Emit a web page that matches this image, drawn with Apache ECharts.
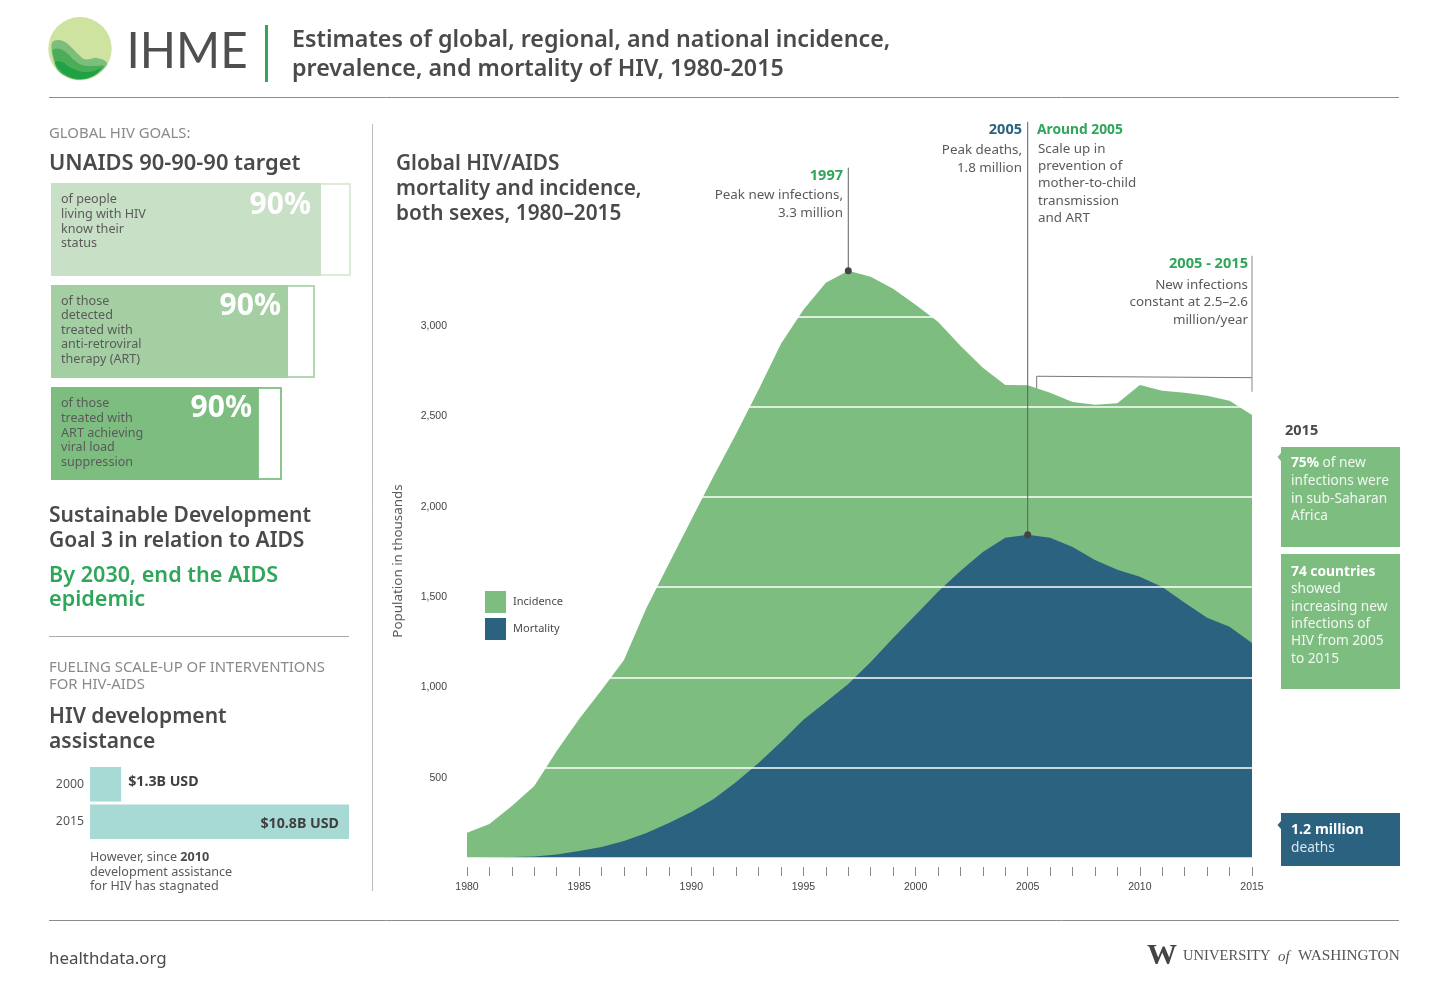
<!DOCTYPE html>
<html><head><meta charset="utf-8">
<style>html,body{margin:0;padding:0;background:#fff;overflow:hidden}#c{width:1440px;height:989px}</style>
<script src="https://cdn.jsdelivr.net/npm/echarts@6/dist/echarts.min.js"></script>
</head><body><div id="c"></div>
<script>
const years = [1980,1981,1982,1983,1984,1985,1986,1987,1988,1989,1990,1991,1992,1993,1994,1995,1996,1997,1998,1999,2000,2001,2002,2003,2004,2005,2006,2007,2008,2009,2010,2011,2012,2013,2014,2015];
const incidence = [140,188,288,399,593,770,931,1097,1385,1629,1873,2116,2349,2593,2848,3036,3186,3252,3219,3152,3064,2970,2837,2715,2620,2618,2576,2526,2510,2518,2620,2587,2576,2560,2532,2454];
const mortality = [0,2,6,8,19,39,61,94,139,194,255,327,421,526,643,765,864,964,1086,1219,1346,1474,1590,1695,1773,1790,1773,1723,1651,1596,1557,1501,1413,1330,1280,1191];
const yTickLabels = [500,1000,1500,2000,2500,3000];
const peakInfectionLeader = [[1997,3252],[1997,3823]];
const peakDeathLeader = [[2005,1790],[2005,4077]];
const rangeBracket = [[2005.4,2600],[2005.4,2668],[2015,2660]];
const rangeLeader = [[2015,3335],[2015,2582]];
const targetCats = ['know','treated','suppressed'];
const targetOuter = [100,88,77];
const targetFilled = [90,79,69.3];
const targetColors = ['#c8e0c6','#a4cfa3','#7dbd80'];
const targetBorders = ['#dcecd9','#b2d8b0','#8cc48e'];
const assistYears = ['2000','2015'];
const assistValues = [1.3,10.8];
const assistLabels = ['$1.3B USD','$10.8B USD'];

const F = '"Noto Sans"';
const GREEN='#7dbd80', BLUE='#2b6280', DARK='#4a4a4a', GREY='#8a8a8a', TXT='#5a5a5a', BRIGHT='#2fa65a';
const els = [];
function T(x,y,text,size,color,weight,align,extra,elExtra){
  els.push(Object.assign({type:'text',x:x,y:y+(size>=18?2:1),style:Object.assign({text:text,fill:color||TXT,font:(weight||400)+' '+size+'px '+F,textAlign:align||'left',textVerticalAlign:'middle'},extra||{})},elExtra||{}));
}
function L(x1,y1,x2,y2,color,w){els.push({type:'line',shape:{x1,y1,x2,y2},style:{stroke:color,lineWidth:w||1}});}
function R(x,y,w,h,color){els.push({type:'rect',shape:{x,y,width:w,height:h},style:{fill:color}});}
function P(pts,color,smooth){els.push({type:'polygon',shape:{points:pts,smooth:smooth||0},style:{fill:color}});}
function lines(x,ys,arr,size,color,weight,align){arr.forEach((s,i)=>T(x,ys[i],s,size,color,weight,align));}

// logo
els.push({type:'circle',shape:{cx:80,cy:48.7,r:31.7},style:{fill:'#cfe3a0'}});
P([[52,43],[58,40],[65,42],[72,48],[78,54],[84,59],[90,59],[97,58],[107,63],[101,71],[92,77],[80,79.5],[68,77],[58,70],[53,58]],'#7cbf7a',0.4);
P([[53,50],[60,49],[68,54],[74,60],[82,65],[94,66],[104,66],[98,73],[90,77],[80,79.5],[68,77],[58,70],[54.5,60]],'#4bad58',0.4);
P([[55,62],[62,62],[68,66],[76,70],[84,72],[94,71],[101,68],[96,74],[88,78],[80,79],[70,77],[61,71]],'#1fa245',0.4);
T(126.5,50,'IHME',50,'#4f4f4f',400,'left',{font:'400 50px Lato'},{scaleX:0.95});
R(265,25,3,57,BRIGHT);
L(49,97.5,1399,97.5,'#8c8c8c',1);
L(49,920.5,1399,920.5,'#8c8c8c',1);
L(372.5,124,372.5,891,'#bbbbbb',1);
L(49,636.5,349,636.5,'#aaaaaa',1);

// header
T(292,38,'Estimates of global, regional, and national incidence,',23.25,DARK,600);
T(292,67,'prevalence, and mortality of HIV, 1980-2015',23.25,DARK,600);

// left column
T(49,133,'GLOBAL HIV GOALS:',14.9,GREY);
T(49,162,'UNAIDS 90-90-90 target',21.9,DARK,600);
lines(61,[198,213,228,242],['of people','living with HIV','know their','status'],12.6,TXT);
lines(61,[300,314,329,343,358],['of those','detected','treated with','anti-retroviral','therapy (ART)'],12.6,TXT);
lines(61,[402,417,432,446,461],['of those','treated with','ART achieving','viral load','suppression'],12.6,TXT);
T(311,203,'90%',30,'#fff',700,'right');
T(281,304,'90%',30,'#fff',700,'right');
T(252,406,'90%',30,'#fff',700,'right');
lines(49,[514,539],['Sustainable Development','Goal 3 in relation to AIDS'],21,DARK,600);
lines(49,[574,598],['By 2030, end the AIDS','epidemic'],21.6,BRIGHT,600);
lines(49,[667,684],['FUELING SCALE-UP OF INTERVENTIONS','FOR HIV-AIDS'],14.9,GREY);
lines(49,[715,740],['HIV development','assistance'],21,DARK,600);
els.push({type:'text',x:90,y:857,style:{text:'However, since {b|2010}',fill:TXT,font:'400 12.6px '+F,textVerticalAlign:'middle',rich:{b:{fontWeight:700,fontSize:12.6,fontFamily:'Noto Sans',fill:DARK}}}});
T(90,871,'development assistance',12.6,TXT);
T(90,885,'for HIV has stagnated',12.6,TXT);
T(49,959,'healthdata.org',15.5,DARK,400,'left',null,{scaleX:1.09});

// chart text
lines(396,[162,187,212],['Global HIV/AIDS','mortality and incidence,','both sexes, 1980\u20132015'],20.8,DARK,600);
T(843,175,'1997',14.5,BRIGHT,700,'right');
lines(843,[194,212],['Peak new infections,','3.3 million'],13.4,TXT,400,'right');
T(1022,129,'2005',14.5,BLUE,700,'right');
lines(1022,[149,167],['Peak deaths,','1.8 million'],13.4,TXT,400,'right');
T(1037,129,'Around 2005',13.8,BRIGHT,700);
lines(1038,[148,165,182,200,217],['Scale up in','prevention of','mother-to-child','transmission','and ART'],13.4,TXT);
T(1248,263,'2005 - 2015',14.6,BRIGHT,700,'right');
lines(1248,[284,301,319],['New infections','constant at 2.5\u20132.6','million/year'],13.4,TXT,400,'right');
els.push({type:'text',x:398.5,y:561,rotation:Math.PI/2,style:{text:'Population in thousands',fill:TXT,font:'400 13.4px '+F,textAlign:'center',textVerticalAlign:'middle'}});

// right callouts
T(1285,430,'2015',14.5,DARK,700);
R(1281,447,119,100,GREEN);
P([[1281,453],[1277.5,457],[1281,461]],GREEN);
R(1281,554,119,135,GREEN);
R(1281,813,119,53,BLUE);
P([[1281,821],[1277.5,825],[1281,829]],BLUE);
els.push({type:'text',x:1291,y:463,style:{text:'{b|75%} of new',fill:'#f1f8f0',font:'400 13.7px '+F,textVerticalAlign:'middle',rich:{b:{fontWeight:700,fontSize:13.7,fontFamily:'Noto Sans',fill:'#fff'}}}});
lines(1291,[480,498,515],['infections were','in sub-Saharan','Africa'],13.7,'#f1f8f0');
T(1291,571,'74 countries',13.8,'#fff',700);
lines(1291,[588,606,623,640,658],['showed','increasing new','infections of','HIV from 2005','to 2015'],13.7,'#f1f8f0');
T(1291,829,'1.2 million',14.2,'#fff',700);
T(1291,847,'deaths',13.7,'#d9e6ee');

// UW mark
T(1147,954,'W',30,'#444',700,'left',{font:'700 30px "Liberation Serif"'});
T(1183,955,'UNIVERSITY',14.6,'#555',400,'left',{font:'400 14.6px "Liberation Serif"'});
T(1278,956,'of',15,'#555',400,'left',{font:'italic 400 15px "Liberation Serif"'});
T(1298,955,'WASHINGTON',15.3,'#555',400,'left',{font:'400 15.3px "Liberation Serif"'});

els.forEach(e=>{e.z=100;e.zlevel=1;});

const pair = (a)=>years.map((y,i)=>[y,a[i]]);
const leader = {type:'line',xAxisIndex:0,yAxisIndex:0,clip:false,z:6,silent:true,showSymbol:false,symbol:'none',lineStyle:{color:'#5f5f5f',width:1},animation:false};
const dotted = (d)=>d.map((p,i)=> i===0 ? {value:p,symbol:'circle',symbolSize:7,itemStyle:{color:'#444'}} : {value:p,symbol:'none'});

const chart = echarts.init(document.getElementById('c'));
chart.setOption({
  animation:false,backgroundColor:'#fff',
  textStyle:{fontFamily:'Noto Sans'},
  legend:{data:['Incidence','Mortality'],orient:'vertical',left:480,top:586,itemWidth:21,itemHeight:22,itemGap:5,icon:'rect',selectedMode:false,textStyle:{color:'#4a4a4a',fontSize:11,fontFamily:'Noto Sans',padding:[0,0,0,2]}},
  graphic:{elements:els},
  grid:[
    {left:467,right:188,top:226,bottom:131},
    {left:51,width:300,top:178.5,height:306},
    {left:90,width:259,top:765.5,height:75},
    {left:467,right:188,top:866,height:1}
  ],
  xAxis:[
    {type:'value',gridIndex:0,min:1980,max:2015,interval:5,show:false},
    {type:'value',gridIndex:1,min:0,max:100,show:false},
    {type:'value',gridIndex:2,min:0,max:10.8,show:false},
    {type:'value',gridIndex:3,min:1980,max:2015,interval:5,
     axisLine:{show:false},splitLine:{show:false},
     axisTick:{show:true,length:9,lineStyle:{color:'#8a8a8a',width:1}},
     minorTick:{show:true,splitNumber:5,length:9,lineStyle:{color:'#8a8a8a',width:1}},
     axisLabel:{margin:15,fontSize:10.5,color:'#444',fontFamily:'Liberation Sans',formatter:v=>String(v)}}
  ],
  yAxis:[
    {type:'value',gridIndex:0,min:0,max:3500,interval:500,z:5,
     axisLine:{show:false},axisTick:{show:false},
     splitLine:{show:true,lineStyle:{color:'#fff',width:1.5}},
     axisLabel:{margin:20,fontSize:10.5,color:'#444',fontFamily:'Liberation Sans',verticalAlign:'top',lineHeight:20,
       formatter:v=>yTickLabels.includes(v)?v.toLocaleString('en-US'):''}},
    {type:'category',gridIndex:1,data:targetCats,inverse:true,show:false},
    {type:'category',gridIndex:2,data:assistYears,inverse:true,
     axisLine:{show:false},axisTick:{show:false},
     axisLabel:{margin:6,fontSize:12.3,color:'#555',fontFamily:'Noto Sans'}},
    {type:'value',gridIndex:3,show:false}
  ],
  series:[
    {name:'Incidence',type:'line',xAxisIndex:0,yAxisIndex:0,data:pair(incidence),showSymbol:false,symbol:'none',z:2,
     lineStyle:{width:0},itemStyle:{color:GREEN},areaStyle:{color:GREEN,opacity:1}},
    {name:'Mortality',type:'line',xAxisIndex:0,yAxisIndex:0,data:pair(mortality),showSymbol:false,symbol:'none',z:3,
     lineStyle:{width:0},itemStyle:{color:BLUE},areaStyle:{color:BLUE,opacity:1}},
    Object.assign({},leader,{name:'peak infections',data:dotted(peakInfectionLeader),showSymbol:true,symbol:'none'}),
    Object.assign({},leader,{name:'peak deaths',data:dotted(peakDeathLeader),showSymbol:true,symbol:'none'}),
    Object.assign({},leader,{name:'bracket',data:rangeBracket,lineStyle:{color:'#777',width:1}}),
    Object.assign({},leader,{name:'range',data:rangeLeader,lineStyle:{color:'#888',width:1}}),
    {name:'Target',type:'bar',xAxisIndex:1,yAxisIndex:1,data:targetOuter.map((v,i)=>({value:v,itemStyle:{color:'#fff',borderColor:targetBorders[i],borderWidth:2}})),barWidth:93,barGap:'-100%',z:2,silent:true},
    {name:'Achieved',type:'bar',xAxisIndex:1,yAxisIndex:1,data:targetFilled.map((v,i)=>({value:v,itemStyle:{color:targetColors[i]}})),barWidth:93,barGap:'-100%',z:3,silent:true},
    {name:'Assistance',type:'bar',xAxisIndex:2,yAxisIndex:2,barWidth:34.5,silent:true,itemStyle:{color:'#a8dad5'},
     data:assistValues.map((v,i)=>({value:v,label:{show:true,position:i==0?'right':'insideRight',distance:i==0?7:10,offset:[0,i==0?-2:2],formatter:assistLabels[i],fontSize:14.2,fontWeight:700,color:'#3f3f3f',fontFamily:'Noto Sans'}}))}
  ]
});
</script></body></html>
